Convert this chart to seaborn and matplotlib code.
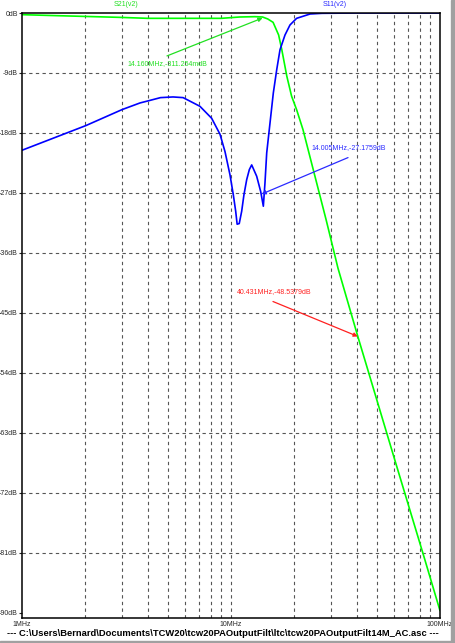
import numpy as np
import pandas as pd
import matplotlib
matplotlib.use('Agg')
import matplotlib.pyplot as plt
from matplotlib.patches import Rectangle
from matplotlib.ticker import NullLocator
import seaborn as sns

sns.set_style('ticks')
plt.rcParams['font.family'] = ['Liberation Sans', 'DejaVu Sans']

# S21(v2) trace, MHz / dB
s21_freq = [1.0, 1.47, 2.9, 4.0, 9.0, 11.0, 13.0, 14.16, 15.0, 15.9, 16.9, 17.5,
            18.5, 19.5, 20.6, 22.1, 28.5, 32.5, 40.43, 44.7, 60.0, 83.8, 100.0]
s21_db = [-0.25, -0.4, -0.65, -0.8, -0.8, -0.6, -0.55, -0.6, -0.9, -1.4, -3.3, -5.5,
          -9.5, -12.5, -14.5, -17.5, -31.0, -38.3, -48.54, -53.1, -66.5, -81.6, -89.7]

# S11(v2) trace
s11_freq = [1.0, 2.02, 3.01, 3.67, 4.0, 4.6, 5.28, 5.9, 7.1, 8.08, 8.86, 9.36, 9.89,
            10.26, 10.53, 10.7, 10.95, 11.25, 11.53, 11.89, 12.24, 12.56, 13.27, 13.87,
            14.28, 14.54, 14.82, 15.37, 15.94, 16.55, 17.16, 18.13, 19.15, 20.6, 23.9,
            27.2, 40.0, 100.0]
s11_db = [-20.6, -16.9, -14.5, -13.5, -13.2, -12.7, -12.6, -12.7, -14.0, -15.8, -18.2,
          -20.8, -24.3, -27.3, -29.75, -31.7, -31.6, -29.75, -27.3, -25.0, -23.5, -22.8,
          -24.5, -26.8, -29.0, -25.5, -21.0, -16.5, -12.0, -8.5, -5.5, -3.3, -1.8, -0.8,
          -0.15, -0.05, 0.0, 0.0]

y_ticks = [0, -9, -18, -27, -36, -45, -54, -63, -72, -81, -90]
x_ticks = [1, 10, 100]
x_tick_labels = ['1MHz', '10MHz', '100MHz']
grid_freqs = [2, 3, 4, 5, 6, 7, 8, 9, 10, 20, 30, 40, 50, 60, 70, 80, 90]

# cursor markers: label, tip (MHz, dB), arrow tail, text left/centre
mark_labels = ['14.160MHz,-311.254mdB', '14.005MHz,-27.1759dB', '40.431MHz,-48.5379dB']
mark_tip = [(14.16, -0.75), (14.005, -27.18), (40.431, -48.54)]
mark_tail = [(4.94, -6.44), (36.3, -21.7), (15.88, -43.3)]
mark_text = [(3.18, -7.64), (24.4, -20.2), (10.68, -41.8)]
mark_colors = ['#22e022', '#2a2aff', '#ff2020']

title = '--- C:\\Users\\Bernard\\Documents\\TCW20\\tcw20PAOutputFilt\\ltc\\tcw20PAOutputFilt14M_AC.asc ---'

df = pd.concat([
    pd.DataFrame({'freq': s21_freq, 'db': s21_db, 'trace': 'S21(v2)'}),
    pd.DataFrame({'freq': s11_freq, 'db': s11_db, 'trace': 'S11(v2)'}),
])

W, H = 455, 643
fig = plt.figure(figsize=(W / 100, H / 100), dpi=100)
fig.patch.set_facecolor('white')
ax = fig.add_axes([22 / W, 1 - 618 / H, (440 - 22) / W, (618 - 13) / H])

for f in grid_freqs:
    ax.axvline(f, color='#555555', ls=(0, (3, 3)), lw=0.8, zorder=0)
for v in y_ticks[1:-1]:
    ax.axhline(v, color='#555555', ls=(0, (3, 3)), lw=0.8, zorder=0)

sns.lineplot(data=df, x='freq', y='db', hue='trace', sort=False, estimator=None,
             palette={'S21(v2)': '#00ff00', 'S11(v2)': '#0000ff'}, legend=False,
             lw=1.2, ax=ax)

ax.set_xscale('log')
ax.set_xlim(1, 100)
ax.set_ylim(-90.8, 0)
ax.xaxis.set_minor_locator(NullLocator())
ax.set_xticks(x_ticks)
ax.set_xticklabels(x_tick_labels)
ax.set_yticks(y_ticks)
ax.set_yticklabels([f'{v}dB' for v in y_ticks])
ax.tick_params(axis='y', length=2.5, width=0.8, labelsize=5, pad=0.5)
ax.tick_params(axis='x', length=0, labelsize=5, pad=2)
ax.set_xlabel('')
ax.set_ylabel('')
for s in ax.spines.values():
    s.set_color('black')
    s.set_linewidth(1.1)

for lab, tip, tail, txt, c in zip(mark_labels, mark_tip, mark_tail, mark_text, mark_colors):
    ax.annotate('', xy=tip, xytext=tail,
                arrowprops=dict(arrowstyle='-|>', color=c, lw=0.9, mutation_scale=6,
                                shrinkA=0, shrinkB=0))
    ax.text(txt[0], txt[1], lab, color=c, fontsize=5, ha='left', va='center')

fig.text(126 / W, 1 - 5 / H, 'S21(v2)', color='#22e022', fontsize=5, ha='center', va='center')
fig.text(335 / W, 1 - 5 / H, 'S11(v2)', color='#2a2aff', fontsize=5, ha='center', va='center')

t = fig.text(0.49, 1 - 634 / H, title, ha='center', va='center', fontsize=7,
             fontweight='bold', color='black')
fig.canvas.draw()
w = t.get_window_extent().width
t.set_fontsize(7 * 433 / w)

fig.patches.append(Rectangle((451 / W, 0), 4 / W, 1, transform=fig.transFigure,
                             color='#a0a0a0', zorder=0))
fig.patches.append(Rectangle((0, 0), 1, 2 / H, transform=fig.transFigure,
                             color='#a0a0a0', zorder=0))

fig.savefig('out.png', dpi=100)
